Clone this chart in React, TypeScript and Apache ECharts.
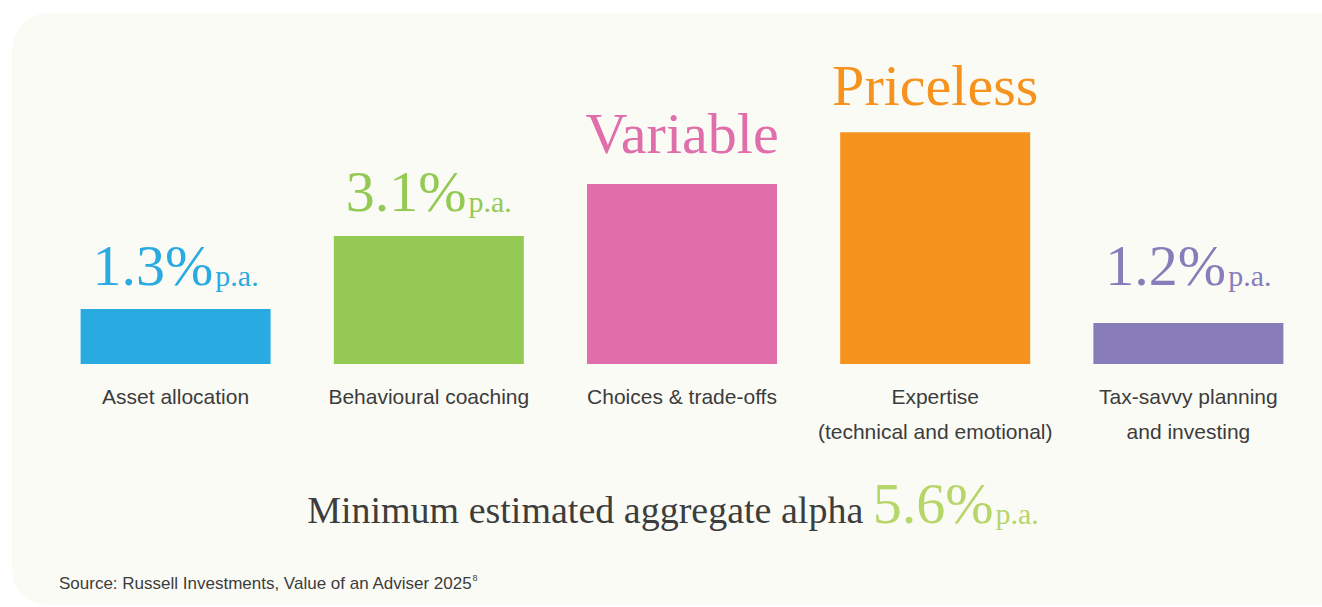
import React, { useEffect, useRef } from "react";
import * as echarts from "echarts";

const categories = [
  "Asset allocation",
  "Behavioural coaching",
  "Choices & trade-offs",
  "Expertise\n(technical and emotional)",
  "Tax-savvy planning\nand investing",
];
// visual bar heights (in % p.a. scale units as drawn)
const barHeights = [1.34, 3.12, 4.39, 5.65, 1.0];
const valueLabels = ["1.3%", "3.1%", "Variable", "Priceless", "1.2%"];
const perAnnum = [true, true, false, false, true];
const barColors = ["#29abe2", "#94c954", "#e06eaa", "#f6921e", "#887dba"];
const labelGaps = [15, 16, 22, 18, 29];
const aggregateAlpha = "5.6%";
const aggregateText = "Minimum estimated aggregate alpha ";
const sourceText = "Source: Russell Investments, Value of an Adviser 2025";

const SERIF = "'Liberation Serif', 'Times New Roman', serif";
const SANS = "'Liberation Sans', Arial, Helvetica, sans-serif";

export default function App() {
  const ref = useRef<HTMLDivElement>(null);
  useEffect(() => {
    if (!ref.current) return;
    const chart = echarts.init(ref.current, null, { renderer: "svg" });
    const data = barHeights.map((v, i) => {
      const c = barColors[i];
      return {
        value: v,
        itemStyle: { color: c },
        label: {
          show: true,
          position: "top",
          distance: labelGaps[i],
          color: c,
          formatter: perAnnum[i]
            ? `{v|${valueLabels[i]}}{pa|p.a.}`
            : `{v|${valueLabels[i]}}`,
          rich: {
            v: {
              fontFamily: SERIF,
              fontSize: 58,
              lineHeight: 58,
              color: c,
              verticalAlign: "bottom",
            },
            pa: {
              fontFamily: SERIF,
              fontSize: 30,
              lineHeight: 30,
              color: c,
              verticalAlign: "bottom",
              padding: [0, 0, 4, 2],
            },
          },
        },
      };
    });
    chart.setOption({
      animation: false,
      backgroundColor: "#ffffff",
      grid: { left: 49, width: 1266, top: 77, height: 287 },
      xAxis: {
        type: "category",
        data: categories,
        axisLine: { show: false },
        axisTick: { show: false },
        axisLabel: {
          margin: 15,
          fontFamily: SANS,
          fontSize: 21,
          lineHeight: 35,
          color: "#3c3c3c",
          interval: 0,
        },
      },
      yAxis: {
        type: "value",
        min: 0,
        max: 7,
        show: false,
        splitLine: { show: false },
      },
      graphic: [
        {
          type: "rect",
          z: -10,
          shape: { x: 12, y: 13, width: 1340, height: 592, r: 36 },
          style: { fill: "#fbfbf6" },
          silent: true,
        },
        {
          type: "text",
          x: 673,
          y: 532,
          style: {
            text: `{t|${aggregateText}}{g|${aggregateAlpha}}{pa|p.a.}`,
            align: "center",
            verticalAlign: "bottom",
            rich: {
              t: {
                fontFamily: SERIF,
                fontSize: 38,
                lineHeight: 38,
                fill: "#3d3d3d",
                verticalAlign: "bottom",
                padding: [0, 0, 3, 0],
              },
              g: {
                fontFamily: SERIF,
                fontSize: 58,
                lineHeight: 58,
                fill: "#b6d66a",
                verticalAlign: "bottom",
              },
              pa: {
                fontFamily: SERIF,
                fontSize: 30,
                lineHeight: 30,
                fill: "#b6d66a",
                verticalAlign: "bottom",
                padding: [0, 0, 4, 2],
              },
            },
          },
        },
        {
          type: "text",
          x: 59,
          y: 582,
          style: {
            text: `{s|${sourceText}}{sup|8}`,
            verticalAlign: "middle",
            rich: {
              s: { fontFamily: SANS, fontSize: 17, fill: "#3c3c3c", lineHeight: 20, verticalAlign: "bottom" },
              sup: { fontFamily: SANS, fontSize: 9, fill: "#3c3c3c", lineHeight: 20, verticalAlign: "top", padding: [1, 0, 0, 0] },
            },
          },
        },
      ],
      series: [
        {
          type: "bar",
          barWidth: 190,
          data,
          z: 2,
        },
      ],
    });
    return () => chart.dispose();
  }, []);
  return (
    <div
      ref={ref}
      style={{ position: "fixed", left: 0, top: 0, width: 1322, height: 607 }}
    />
  );
}
